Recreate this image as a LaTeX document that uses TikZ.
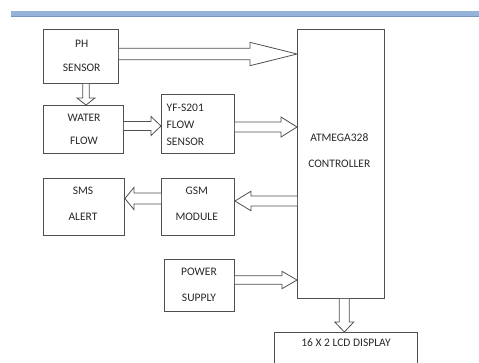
\documentclass[tikz,border=0pt]{standalone}
\usepackage{fontspec}
\setmainfont{Carlito}
\usetikzlibrary{calc}
\definecolor{edge}{RGB}{80,80,80}
\definecolor{ink}{RGB}{40,40,40}
\definecolor{bar}{RGB}{150,180,218}
\definecolor{bardark}{RGB}{120,150,195}
\tikzset{
  box/.style={draw=edge, line width=0.9pt, anchor=north west, inner sep=0pt},
  txt/.style={text=ink, align=center, inner sep=0pt, font=\fontsize{11.5}{26}\selectfont},
  blk/.style={draw=edge, line width=0.8pt, fill=white, line join=miter}
}
% horizontal hollow arrow: source point, tip point, shaft half, head half, head length (signed)
\newcommand\hArrow[5]{%
  \draw[blk] ($(#1)+(0,-#3)$) -- ($(#2)+(-#5,-#3)$) -- ($(#2)+(-#5,-#4)$) -- (#2)
    -- ($(#2)+(-#5,#4)$) -- ($(#2)+(-#5,#3)$) -- ($(#1)+(0,#3)$);}
\newcommand\vArrow[5]{%
  \draw[blk] ($(#1)+(-#3,0)$) -- ($(#2)+(-#3,-#5)$) -- ($(#2)+(-#4,-#5)$) -- (#2)
    -- ($(#2)+(#4,-#5)$) -- ($(#2)+(#3,-#5)$) -- ($(#1)+(#3,0)$);}
\begin{document}
\begin{tikzpicture}[x=1pt,y=-1pt]
\useasboundingbox (0,0) rectangle (479,362);
\begin{scope}
\clip (0,0) rectangle (479,362);
% top bar
\fill[bar] (11,11) rectangle (479,16);
\draw[bardark, line width=0.6pt] (11,16) -- (479,16);

% boxes
\node[box, minimum width=75pt, minimum height=54pt] (ph) at (43,29) {};
\node[box, minimum width=80pt, minimum height=48pt] (water) at (43,105) {};
\node[box, minimum width=73pt, minimum height=59pt] (yf) at (161,94) {};
\node[box, minimum width=81pt, minimum height=57pt] (sms) at (43,178) {};
\node[box, minimum width=73pt, minimum height=57pt] (gsm) at (161,178) {};
\node[box, minimum width=70pt, minimum height=52pt] (power) at (164,259) {};
\node[box, minimum width=87pt, minimum height=269pt] (ctrl) at (297,29) {};
\node[box, minimum width=143pt, minimum height=40pt] (lcd) at (274,332) {};

% texts
\node[txt, font=\fontsize{11.5}{24}\selectfont] (phT) at (81.7,56) {PH\\SENSOR};
\node[txt, font=\fontsize{11.5}{23}\selectfont] (waterT) at (84,129.5) {WATER\\FLOW};
\node[txt, align=left, anchor=west, font=\fontsize{11.5}{17}\selectfont] (yfT) at (166.5,124.5) {YF-S201\\FLOW\\SENSOR};
\node[txt] (smsT) at (83,203.5) {SMS\\ALERT};
\node[txt] (gsmT) at (196.7,203.5) {GSM\\MODULE};
\node[txt] (powerT) at (199,284.5) {POWER\\SUPPLY};
\node[txt] (ctrlT) at (339.3,150.5) {ATMEGA328\\CONTROLLER};
\node[txt] (lcdT) at (346,343) {16 X 2 LCD DISPLAY};

% arrows
\coordinate (a1s) at (ph.east |- 0,54);   \coordinate (a1t) at (ctrl.west |- 0,54);
\hArrow{a1s}{a1t}{5.7}{11.7}{47}
\coordinate (a2s) at (86,0 |- ph.south);   \coordinate (a2t) at (86,0 |- water.north);
\vArrow{a2s}{a2t}{3.3}{9}{7}
\coordinate (a3s) at (water.east |- 0,126); \coordinate (a3t) at (yf.west |- 0,126);
\hArrow{a3s}{a3t}{4.5}{9.5}{10}
\coordinate (a4s) at (yf.east |- 0,127);  \coordinate (a4t) at (ctrl.west |- 0,127);
\hArrow{a4s}{a4t}{5}{10}{16}
\coordinate (a5s) at (ctrl.west |- 0,201); \coordinate (a5t) at (gsm.east |- 0,201);
\hArrow{a5s}{a5t}{5}{9.7}{-16}
\coordinate (a6s) at (gsm.west |- 0,198.5); \coordinate (a6t) at (sms.east |- 0,198.5);
\hArrow{a6s}{a6t}{5.5}{11}{-9}
\coordinate (a7s) at (power.east |- 0,280); \coordinate (a7t) at (ctrl.west |- 0,280);
\hArrow{a7s}{a7t}{4.2}{8.7}{15}
\coordinate (a8s) at (344.3,0 |- ctrl.south); \coordinate (a8t) at (344.3,0 |- lcd.north);
\vArrow{a8s}{a8t}{5}{9.5}{10}
\end{scope}
\end{tikzpicture}
\end{document}
